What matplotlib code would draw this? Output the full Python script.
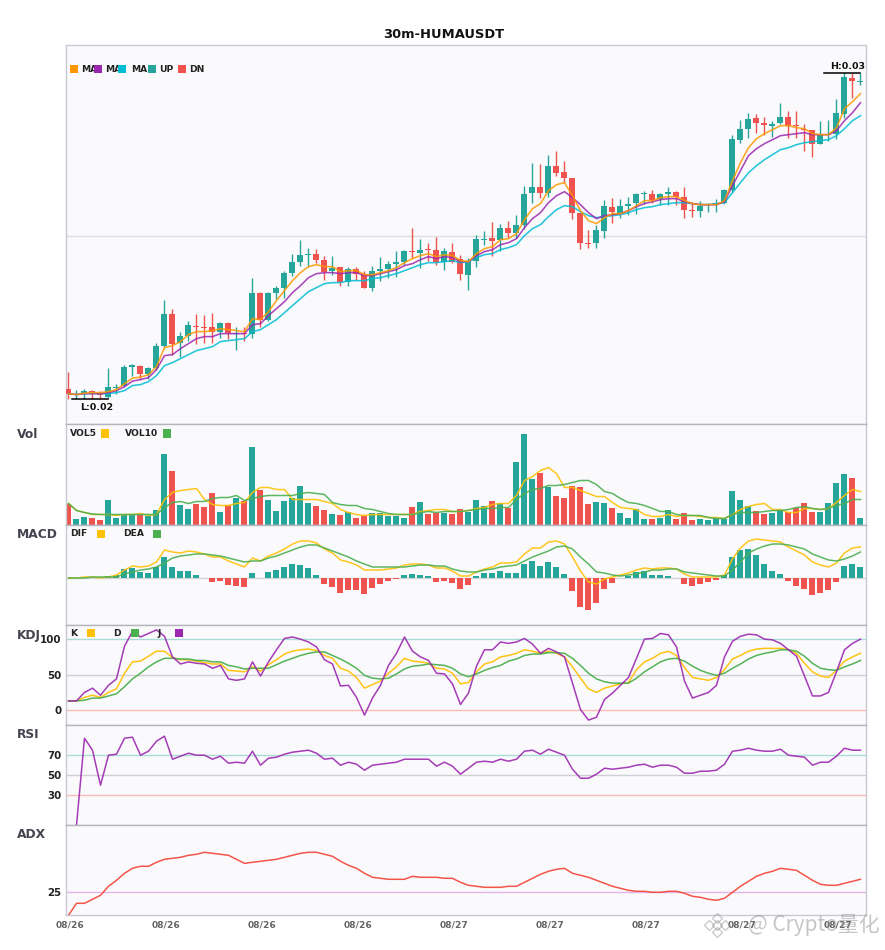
import matplotlib
matplotlib.use("Agg")
import matplotlib.pyplot as plt
import numpy as np
from matplotlib.patches import Rectangle
from matplotlib.lines import Line2D

W, H = 885, 950
UP, DN = '#26A69A', '#EF5350'
ORANGE, PURPLE, CYAN = '#FF9800', '#9C27B0', '#00BCD4'
YELLOW, GREEN = '#FFC107', '#4CAF50'
BG = '#FAFAFC'

title = '30m-HUMAUSDT'
tick_labels = ['08/26'] * 4 + ['08/27'] * 5
tick_index = [0, 12, 24, 36, 48, 60, 72, 84, 96]

# price, in chart units above the bottom of the candle panel
open_ = [36,30,31,33.5,31,28,37,39,58,59,51,57,79,111,82,89,99,98,98,93,102,91,91,91,132,105,132,137,152,163,
         170,171,165,154,158,143,156,151,137,154,156,161,163,174,172,176,175,163,173,166,150,164,185,187,185,197,192,200,232,238,
         232,259,253,247,212,182,182,194,218,212,219,222,231,231,226,231,233,228,215,214,220,220,222,235,285,296,307,302,299,302,
         308,300,296,295,281,290,291,311,347,343]
close = [31,30.5,34,33,30,38,38,58,60,51,57,79,111,81,89,100,98,97,93,102,92,92,90.5,132,105,132,137,152,163,170,
         171,165,153,157,143,156,151,137,154,156,161,163,174,173,175,175,163,174,163,151,164,186,186,184,197,192,200,231,238,232,
         259,252,247,212,182,181,195,219,213,219,221,231,232,225,231,233,228,215,214,219,221,222,235,286,296,306,302,300,301,308,
         299,299,295,281,290,291,312,348,344,344]
high = [53,35,36,35,34,57,41,60,61,60,58,82,125,116,93,104,111,110,112,103,103,98,98,147,133,133,139,154,171,185,
        177,176,169,169,158,158,158,154,159,168,164,174,175,197,186,182,188,177,182,170,167,190,194,203,201,204,210,239,262,261,
        270,274,264,247,212,195,200,225,227,226,228,232,234,235,232,238,234,238,223,224,222,226,236,290,305,312,311,308,304,322,
        314,314,301,295,304,305,326,352,352,352]
low = [26,26,26,26,26,27,31,38,49,46,46,55,77,70,68,84,81,82,82,87,86,75,84,87,98,104,126,127,149,159,
       158,162,145,150,139,139,145,137,134,144,147,148,160,167,157,164,160,155,162,145,135,158,180,169,174,187,187,196,222,227,
       228,249,242,206,176,177,177,187,202,207,210,211,221,222,220,220,220,207,208,208,213,213,221,233,282,287,292,290,288,301,
       287,287,274,268,281,284,286,307,327,340]

ma_fast = [31,30,31.5,32,32,33,35,41,46.5,47.5,50,58,77,79,83,90,93,93,94,96,95,94,93,106,105,113,124,134,144,152,
           158,160,158,158,153,154,154,150,150,152,154,157,162,166,169,171,168,170,169,164,163,171,176,178,185,186,191,205,216,221,
           234,240,242,229,214,204,201,207,211,211,214,219,224,224,227,228,228,224,221,220,220,220,224,244,262,277,286,291,295,299,
           299,297,296,291,290,290,297,316,323,331]
ma_mid = [31,30,31,31,31,32,34,38,43.5,45,47,55,69,70,76,81,86,88,88,91,91,91,91,100,101,109,116,123,132,139,
          147,151,152,152,151,152,152,149,149,151,153,155,159,161,165,168,166,168,167,163,163,169,173,175,180,182,186,197,206,212,
          222,229,233,227,220,212,206,209,210,211,214,218,221,223,225,226,226,223,221,220,220,220,223,239,254,269,276,281,285,289,
          290,291,292,290,290,290,294,304,312,322]
ma_slow = [31,30,31,31,31,31,32,34,39,40,43,49,59,62,66,70,74,76,78,83,84,85,86,93,95,100,105,112,119,126,
           133,137,141,142,142,144,144,144,146,147,149,151,154,157,160,162,162,163,164,162,163,167,170,171,175,177,180,189,196,200,
           208,215,219,218,213,209,207,208,209,210,212,215,217,218,220,221,222,222,221,220,220,221,222,232,242,252,259,265,270,275,
           277,280,282,283,284,285,289,296,304,309]

volume = [21,6,8,7,5,25,7,10,11,10,9,15,71,54,20,16,21,18,32,13,20,27,24,78,35,25,14,24,27,39,
          22,19,15,11,10,13,7,9,12,12,9,9,7,18,23,11,12,12,11,16,13,25,19,24,22,17,63,91,46,52,
          38,29,27,39,38,21,23,22,17,12,7,16,6,6,7,15,6,12,5,6,5,7,6,34,25,19,14,11,12,15,
          13,17,22,13,13,22,42,51,47,7]
vol5 = [21,14,12,10,10,10,9,10,10,11,9,10,25,32,34,35,36,25,20,19,19,21,22,32,37,37,35,35,25,25,
        25,25,23,21,15,12,10,9,10,10,10,10,10,10,13,14,15,15,13,13,14,16,17,20,21,21,29,44,48,54,
        57,51,37,37,34,31,28,28,22,17,16,15,10,8,8,10,8,9,9,8,7,7,6,10,15,18,20,21,15,15,
        12,12,16,16,15,16,22,29,35,33]
vol10 = [21,14,12,10.5,10,10,10,10,10,10,10,10,17,22,23,21,23,23,26,27,27,29,24,26,28,29,29,29,29,31,
         32,31,30,22,20,19,19,16,15,13,11,10,10,10,12,13,12,13,13,13,14,15,16,16,17,17,25,31,35,36,
         39,39,40,42,44,44,40,33,31,26,22,21,19,16,13,13,10,9,9,9,7,6,6,10,12,12,12,13,14,14,
         15,17,18,16,15,16,19,21,25,25]

macd_hist = [0,0,0,0,0,2,3,9,10,6,5,11,21,11,7,7,3,0,-4,-3,-7,-8,-9,5,0,6,8,11,14,13,
             10,3,-6,-9,-15,-12,-12,-16,-10,-6,-3,-1,3,4,3,2,-4,-3,-5,-11,-7,2,5,5,7,5,5,14,17,12,
             16,11,4,-13,-29,-32,-25,-11,-5,0,2,6,7,3,3,2,0,-6,-8,-6,-4,-2,3,21,28,29,23,14,7,4,
             -3,-8,-11,-17,-15,-12,-4,12,14,11]
dif = [0,0,1,1,0,1,3,8,12,11,12,16,28,26,25,27,26,24,21,21,17,14,11,20,17,22,25,29,34,37,
       37,35,29,25,18,16,13,8,8,8,9,10,13,14,14,13,10,10,7,2,2,6,9,11,15,15,16,24,30,30,
       36,37,34,21,7,-4,-6,-1,1,3,5,8,10,9,10,10,9,4,1,1,1,1,3,19,30,37,39,38,37,36,
       31,27,23,16,13,11,15,25,30,31]
dea = [0,0,0,1,1,1,1,4,6,8,9,11,15,20,22,23,24,24,23,22,20,18,16,17,17,20,22,25,28,31,
       33,33,30,27,24,21,17,14,11,11,11,11,11,12,13,13,12,12,9,7,6,6,8,9,11,12,13,17,21,24,
       27,31,32,29,21,14,6,5,3,2,3,4,6,8,8,9,9,6,5,4,3,2,2,8,16,25,29,32,34,34,
       33,31,29,24,21,18,17,19,22,26]

k = [13,13,18,21,18,25,30,52,68,69,76,83,83,74,71,71,69,67,65,65,56,55,54,61,55,64,71,79,83,85,
     86,84,77,73,59,55,46,31,36,41,52,61,73,69,68,66,59,58,52,37,39,54,65,68,75,77,80,85,83,80,
     83,80,75,61,45,30,25,31,34,37,39,57,68,73,80,83,77,60,46,44,42,46,57,72,77,83,86,87,87,87,
     85,80,66,54,48,46,56,69,75,80]
d = [13,13,14,17,17,20,23,33,44,52,61,68,73,73,72,72,70,70,68,68,63,61,58,59,59,59,64,69,73,77,
     80,82,82,77,72,66,59,49,45,44,45,51,58,62,63,65,64,63,59,51,47,51,56,60,63,69,72,77,79,79,
     81,81,80,73,63,52,44,40,38,38,38,45,54,61,68,72,73,69,62,56,52,49,52,59,65,72,77,80,82,85,
     85,83,76,66,59,57,56,61,65,70]
j = [13,13,25,31,21,35,44,90,111,103,108,113,104,75,65,68,66,65,59,63,44,42,44,68,48,68,85,101,103,100,
     96,89,71,65,34,35,18,-7,17,35,63,80,103,83,75,70,52,51,37,8,24,62,85,85,96,94,96,101,93,80,
     87,82,75,38,1,-14,-10,15,24,35,46,73,100,101,108,106,89,41,17,21,25,35,75,97,104,107,106,100,99,94,
     85,76,48,20,20,25,54,85,94,100]

rsi = [np.nan,0,87,75,40,70,71,87,88,70,74,84,89,66,69,72,70,70,66,69,62,63,62,74,60,67,68,71,73,74,
       75,72,66,67,60,63,61,55,60,61,62,63,66,66,66,66,59,63,59,51,57,63,64,63,66,64,66,74,75,71,
       76,73,70,56,47,47,51,57,56,57,58,60,61,58,60,60,58,52,52,54,54,55,61,74,75,77,75,74,74,76,
       70,69,68,60,63,63,69,77,75,75]
adx = [2,14,14,18,22,31,37,44,49,51,51,55,58,59,60,62,63,65,64,63,62,58,54,55,56,57,58,60,62,64,
       65,65,63,61,56,52,49,44,40,39,38,38,38,41,40,40,40,39,39,35,32,31,30,30,30,31,31,35,39,43,
       46,48,49,44,42,40,37,34,31,29,27,26,26,25,25,26,26,24,21,20,18,17,19,25,31,36,41,44,46,49,
       48,47,42,37,33,32,32,34,36,38]

n = len(open_)
x = np.arange(n)
opens, closes, highs, lows = map(np.array, (open_, close, high, low))
colors = [UP if c >= o else DN for o, c in zip(opens, closes)]
XLIM = (-0.375, 99.69)


def fx(px):
    return px / W


def fy(py):
    return 1 - py / H


fig = plt.figure(figsize=(W / 100, H / 100), dpi=100, facecolor='white')
plt.rcParams['font.family'] = ['DejaVu Sans']


def panel(top, bottom, ylim, label=None):
    ax = fig.add_axes([fx(65.5), fy(bottom), fx(866) - fx(65.5), fy(top) - fy(bottom)], facecolor=BG)
    ax.set_xlim(*XLIM)
    ax.set_ylim(*ylim)
    ax.set_xticks([])
    ax.set_yticks([])
    for s in ax.spines.values():
        s.set_color('#C9C9D3')
        s.set_linewidth(1.0)
    ax.spines['top'].set_color('#B4B4BC' if label else '#C9C9D3')
    if label:
        fig.text(fx(17), fy(top + 10.5), label, fontsize=8.8, fontweight='bold', color='#444450', ha='left', va='center')
    return ax


def legend(items, py):
    for kind, px, val in items:
        if kind == 't':
            fig.text(fx(px), fy(py), val, fontsize=6.6, fontweight='bold', color='#222222', ha='left', va='center', zorder=5)
        else:
            fig.add_artist(Rectangle((fx(px), fy(py + 4)), 8 / W, 8 / H, transform=fig.transFigure,
                                     facecolor=val, edgecolor='none', zorder=6))


def yticks(ax, vals):
    ax.set_yticks(vals)
    ax.set_yticklabels([str(v) for v in vals], fontsize=7.4, fontweight='bold', color='#222222')
    ax.tick_params(axis='y', length=0, pad=3)


# main candles
ax0 = panel(44.7, 424.3, (0.3, 380))
ax0.axhline(189, color='#DDDDE0', lw=1.0, zorder=1)
ax0.vlines(x, lows, highs, colors=colors, lw=1.0, zorder=2)
ax0.bar(x, np.maximum(np.abs(closes - opens), 1.0), bottom=np.minimum(opens, closes), width=0.75, color=colors, zorder=3)
for s, c in ((ma_slow, CYAN), (ma_mid, PURPLE), (ma_fast, ORANGE)):
    ax0.plot(x, s, color=c, lw=1.15, alpha=0.85, zorder=4)
ax0.plot([94.5, 99], [highs.max()] * 2, color='black', lw=1.1, zorder=5)
ax0.plot([0.5, 4.9], [lows.min()] * 2, color='black', lw=1.1, zorder=5)
ax0.text(99.6, highs.max() + 2, 'H:0.03', fontsize=6.8, fontweight='bold', ha='right', va='bottom', color='#111111', zorder=6)
ax0.text(1.4, lows.min() - 4, 'L:0.02', fontsize=6.8, fontweight='bold', ha='left', va='top', color='#111111', zorder=6)
legend([('t', 81, 'MA'), ('s', 70, ORANGE), ('t', 105, 'MA'), ('s', 94, PURPLE), ('t', 131, 'MA'), ('s', 118, CYAN),
        ('t', 159, 'UP'), ('s', 148, UP), ('t', 189, 'DN'), ('s', 178, DN)], 69)

# volume
ax1 = panel(424.3, 524.5, (0, 100.2), 'Vol')
ax1.bar(x, volume, width=0.75, color=colors, zorder=2)
ax1.plot(x, vol5, color=YELLOW, lw=1.1, alpha=0.9, zorder=3)
ax1.plot(x, vol10, color=GREEN, lw=1.1, alpha=0.9, zorder=3)
legend([('t', 70, 'VOL5'), ('s', 101, YELLOW), ('t', 125, 'VOL10'), ('s', 163, GREEN)], 433.5)

# MACD
ax2 = panel(524.5, 624.5, (-46.5, 53.5), 'MACD')
ax2.axhline(0, color='#D4D4D8', lw=1.0, zorder=1)
ax2.bar(x, macd_hist, width=0.75, color=[UP if v >= 0 else DN for v in macd_hist], zorder=2)
ax2.plot(x, dif, color=YELLOW, lw=1.1, alpha=0.9, zorder=3)
ax2.plot(x, dea, color=GREEN, lw=1.1, alpha=0.9, zorder=3)
legend([('t', 70, 'DIF'), ('s', 97, YELLOW), ('t', 123, 'DEA'), ('s', 153, GREEN)], 533.5)

# KDJ
ax3 = panel(624.5, 724.5, (-20.2, 120.6), 'KDJ')
ax3.axhline(100, color='#A9DCD6', lw=1.0, zorder=1)
ax3.axhline(50, color='#D0D0D4', lw=1.0, zorder=1)
ax3.axhline(0, color='#FBB9B7', lw=1.0, zorder=1)
ax3.plot(x, k, color=YELLOW, lw=1.1, alpha=0.95, zorder=3)
ax3.plot(x, d, color=GREEN, lw=1.1, alpha=0.95, zorder=3)
ax3.plot(x, j, color=PURPLE, lw=1.1, alpha=0.9, zorder=4)
yticks(ax3, [0, 50, 100])
legend([('t', 70, 'K'), ('s', 87, YELLOW), ('t', 113, 'D'), ('s', 131, GREEN), ('t', 157, 'J'), ('s', 175, PURPLE)], 633)

# RSI
ax4 = panel(724.5, 824.5, (0.7, 100.7), 'RSI')
ax4.axhline(70, color='#A9DCD6', lw=1.0, zorder=1)
ax4.axhline(50, color='#D0D0D4', lw=1.0, zorder=1)
ax4.axhline(30, color='#FBB9B7', lw=1.0, zorder=1)
ax4.plot(x, rsi, color=PURPLE, lw=1.1, alpha=0.9, zorder=3)
yticks(ax4, [30, 50, 70])

# ADX
ax5 = panel(824.5, 915, (2.3, 92.8), 'ADX')
ax5.axhline(25, color='#E3B5EA', lw=1.0, zorder=1)
ax5.plot(x, adx, color='#F44336', lw=1.1, alpha=0.9, zorder=3)
yticks(ax5, [25])
ax5.set_xticks(np.array(tick_index) + 0.22)
ax5.set_xticklabels(tick_labels, fontsize=6.6, fontweight='bold', color='#666666')
ax5.tick_params(axis='x', length=0, pad=4)

fig.text(fx(443.5), fy(34), title, fontsize=9.4, fontweight='bold', color='#111111', ha='center', va='center')

# watermark
WM = '#8E8E8E'
fig.text(fx(880), fy(925), '@ Crypto量化', fontsize=15, color=WM, alpha=0.5, ha='right', va='center',
         family=['Noto Sans CJK SC', 'DejaVu Sans'], zorder=10)
for mx, my in ((709, 925), (717, 918), (725, 925), (717, 932), (717, 925)):
    fig.add_artist(Line2D([fx(mx)], [fy(my)], marker='D', markersize=5.5, mfc='none', mec=WM, mew=1.0, alpha=0.45,
                          transform=fig.transFigure, zorder=10))

fig.savefig('out.png', dpi=100, facecolor='white')
